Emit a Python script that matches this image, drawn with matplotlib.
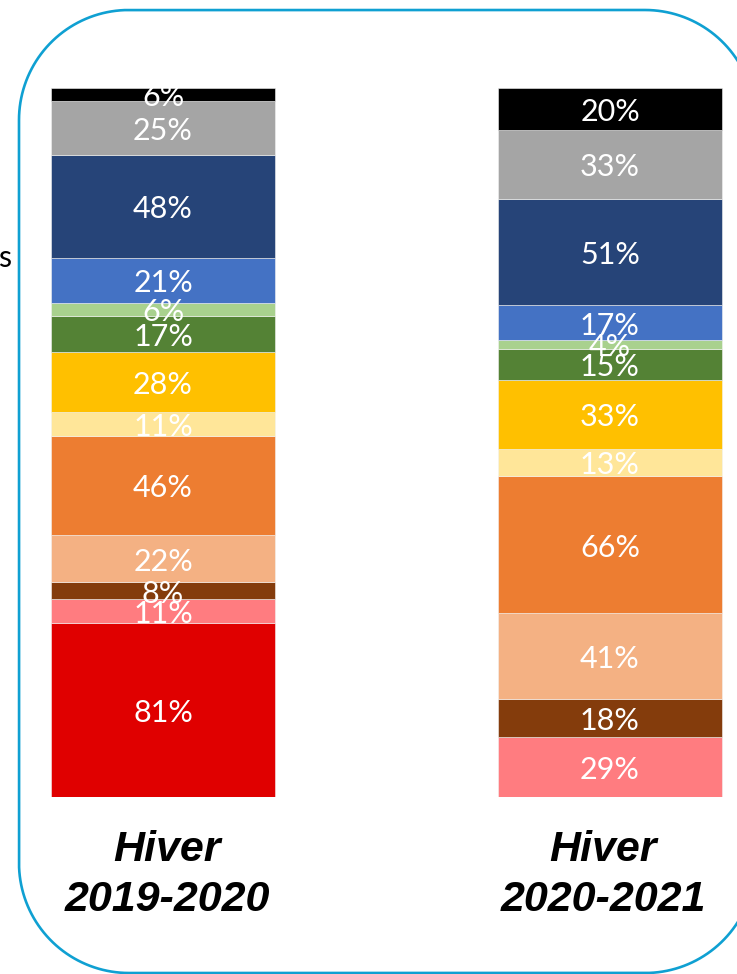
import numpy as np
import matplotlib.pyplot as plt

# categories (bottom to top of each bar)
seasons = ["Hiver\n2019-2020", "Hiver\n2020-2021"]
colors = ["#E00000", "#FF7C80", "#843C0C", "#F4B183", "#ED7D31", "#FFE699",
          "#FFC000", "#548235", "#A9D18E", "#4472C4", "#264478", "#A5A5A5", "#000000"]
hiver_2019 = [81, 11, 8, 22, 46, 11, 28, 17, 6, 21, 48, 25, 6]
hiver_2020 = [0, 29, 18, 41, 66, 13, 33, 15, 4, 17, 51, 33, 20]

data = np.array([hiver_2019, hiver_2020], dtype=float).T
shares = data / data.sum(axis=0)

W, H = 737, 974


def rounded_rect(x0, y0, x1, y1, r, n=40):
    # outline of a rounded rectangle as a dense polyline
    xs, ys = [], []
    corners = [(x1 - r, y1 - r, 0), (x0 + r, y1 - r, 90),
               (x0 + r, y0 + r, 180), (x1 - r, y0 + r, 270)]
    for cx, cy, a0 in corners:
        t = np.radians(np.linspace(a0, a0 + 90, n))
        xs.extend(cx + r * np.cos(t))
        ys.extend(cy + r * np.sin(t))
    xs.append(xs[0])
    ys.append(ys[0])
    return xs, ys


fig = plt.figure(figsize=(W / 100, H / 100), dpi=100)

# rounded frame, drawn in a full-figure axes in pixel units
bg = fig.add_axes([0, 0, 1, 1])
bg.set_xlim(0, W)
bg.set_ylim(0, H)
bg.axis("off")
fx, fy = rounded_rect(19, 1, 755, 964, 110)
bg.plot(fx, fy, color="#0FA0D2", linewidth=1.9)

ax = fig.add_axes([0, 1 - 797 / H, 1, 709 / H])
x = np.arange(len(seasons))
bottom = np.zeros(len(seasons))
for i in range(len(colors)):
    ax.bar(x, shares[i], 0.5, bottom=bottom, color=colors[i],
           edgecolor="#f2f2f2", linewidth=0.4)
    for j in range(len(seasons)):
        if data[i, j] > 0:
            ax.annotate(f"{int(data[i, j])}%", (x[j], bottom[j] + shares[i, j] / 2),
                        xytext=(0, -3), textcoords="offset pixels",
                        ha="center", va="center", color="white", fontsize=22,
                        family=["Lato", "DejaVu Sans"])
    bottom += shares[i]

ax.set_xlim(-163 / 447, (W - 163) / 447)
ax.set_ylim(0, 1)
ax.axis("off")

# season labels under the bars
for px, s in zip([167, 603], seasons):
    fig.text(px / W, 1 - 875 / H, s, ha="center", va="center",
             fontsize=31, fontweight="bold", fontstyle="italic",
             family=["Liberation Sans", "DejaVu Sans"], linespacing=1.3)

# leftover from the legend on the left
fig.text(5 / W, 1 - 258 / H, "s", ha="center", va="center",
         fontsize=22, family=["Lato", "DejaVu Sans"])

fig.savefig("out.png", dpi=100)
